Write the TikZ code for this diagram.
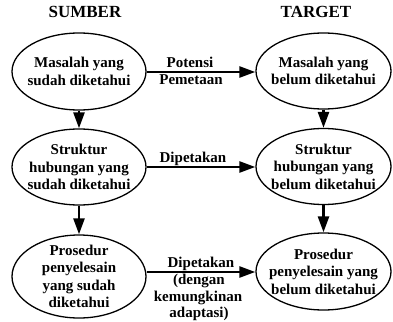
\documentclass[tikz,border=0pt]{standalone}
\usepackage{fontspec}
\setmainfont{Liberation Serif}
\usetikzlibrary{shapes.geometric,arrows.meta}
\begin{document}
\begin{tikzpicture}[x=1pt,y=-1pt,
  ell/.style={draw,ellipse,line width=1.3pt,minimum width=134pt,inner sep=0pt},
  txt/.style={align=center,inner sep=0pt,font=\bfseries\fontsize{15}{17.5}\selectfont},
  lbl/.style={align=center,inner sep=0pt,font=\bfseries\fontsize{15}{17.5}\selectfont},
  ttl/.style={inner sep=0pt,font=\bfseries\fontsize{17}{20}\selectfont},
  arr/.style={line width=2.6pt,-{Triangle[length=16pt,width=11pt]}}]
\useasboundingbox (0,0) rectangle (393,321);
% titles
\node[ttl,anchor=base] (ts) at (85,18) {SUMBER};
\node[ttl,anchor=base] (tt) at (316,18) {TARGET};
% ellipses
\node[ell,minimum height=77pt] (L1) at (79,71.5) {};
\node[ell,minimum height=76pt] (L2) at (79,167) {};
\node[ell,minimum height=83pt] (L3) at (79,276.5) {};
\node[ell,minimum height=76pt,minimum width=135pt] (R1) at (323.5,71) {};
\node[ell,minimum height=76pt,minimum width=135pt] (R2) at (323.5,166.5) {};
\node[ell,minimum height=77pt,minimum width=135pt] (R3) at (323.5,271.5) {};
% texts
\node[txt] (tL1) at (L1) {Masalah yang\\sudah diketahui};
\node[txt] (tL2) at (L2) {Struktur\\hubungan yang\\sudah diketahui};
\node[txt] (tL3) at (L3) {Prosedur\\penyelesain\\yang sudah\\diketahui};
\node[txt] (tR1) at (R1) {Masalah yang\\belum diketahui};
\node[txt] (tR2) at (R2) {Struktur\\hubungan yang\\belum diketahui};
\node[txt] (tR3) at (R3) {Prosedur\\penyelesain yang\\belum diketahui};
% vertical arrows
\draw[arr] (L1.south) -- (L2.north);
\draw[arr] (L2.south) -- (L3.north);
\draw[arr] (R1.south) -- (R2.north);
\draw[arr] (R2.south) -- (R3.north);
% horizontal arrows
\draw[arr] (L1.east |- 0,72) -- (R1.west |- 0,72);
\draw[arr] (L2.east |- 0,167) -- (R2.west |- 0,167);
\draw[arr] (L3.east |- 0,272) -- (R3.west |- 0,272);
% labels
\node[lbl,anchor=base] (p1) at (190,67) {Potensi};
\node[lbl,anchor=base] (p2) at (191,84) {Pemetaan};
\node[lbl,anchor=base] (d2) at (193,162) {Dipetakan};
\node[lbl,anchor=base] (d3) at (201,267) {Dipetakan};
\node[lbl,anchor=base] (d4) at (199,284) {(dengan};
\node[lbl,anchor=base] (d5) at (198,301) {kemungkinan};
\node[lbl,anchor=base] (d6) at (199,317) {adaptasi)};
\end{tikzpicture}
\end{document}
